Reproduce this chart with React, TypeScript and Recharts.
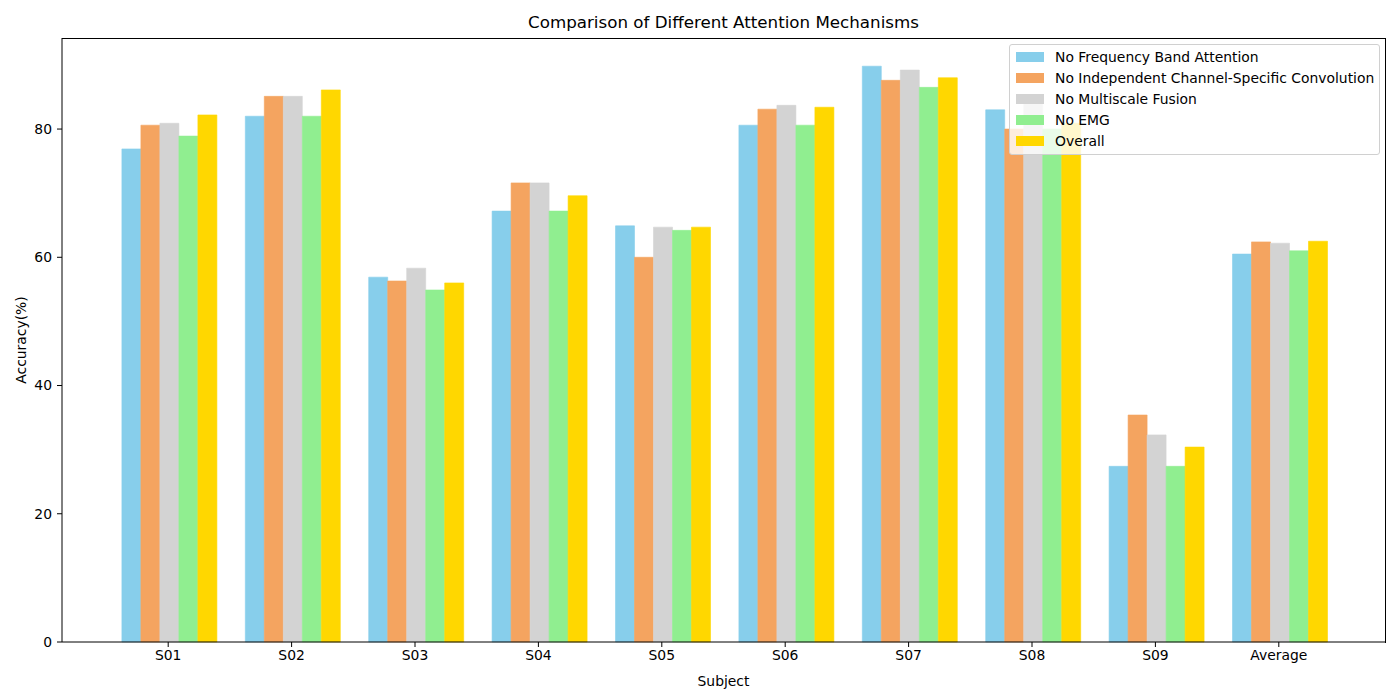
import React from "react";
import { Bar, BarChart, Legend, XAxis, YAxis } from "recharts";

const subjects = ["S01", "S02", "S03", "S04", "S05", "S06", "S07", "S08", "S09", "Average"];

const noFrequencyBand = [76.9, 82.0, 56.9, 67.2, 64.9, 80.6, 89.8, 83.0, 27.4, 60.5];
const noIndependentConv = [80.6, 85.1, 56.3, 71.6, 60.0, 83.1, 87.6, 80.0, 35.4, 62.4];
const noMultiscale = [80.9, 85.1, 58.3, 71.6, 64.7, 83.7, 89.2, 84.1, 32.3, 62.2];
const noEmg = [78.9, 82.0, 54.9, 67.2, 64.2, 80.6, 86.5, 80.0, 27.4, 61.0];
const overall = [82.2, 86.1, 56.0, 69.6, 64.7, 83.4, 88.0, 80.9, 30.4, 62.5];

const yTicks = [0, 20, 40, 60, 80];

const series = [
  { key: "freq", name: "No Frequency Band Attention", color: "#87CEEB", values: noFrequencyBand },
  { key: "indep", name: "No Independent Channel-Specific Convolution", color: "#F4A460", values: noIndependentConv },
  { key: "multi", name: "No Multiscale Fusion", color: "#D3D3D3", values: noMultiscale },
  { key: "emg", name: "No EMG", color: "#90EE90", values: noEmg },
  { key: "overall", name: "Overall", color: "#FFD700", values: overall },
];

const chartData = subjects.map((subject, i) => {
  const row: Record<string, string | number> = { subject };
  series.forEach((s) => {
    row[s.key] = s.values[i];
  });
  return row;
});

const FONT = "'DejaVu Sans', sans-serif";

function LegendBox() {
  return (
    <div
      style={{
        background: "rgba(255,255,255,0.8)",
        border: "1px solid #d0d0d0",
        borderRadius: 3,
        padding: "2px 5px 3px 6px",
        fontFamily: FONT,
        fontSize: 13.9,
        color: "#000",
        boxSizing: "border-box",
        whiteSpace: "nowrap",
      }}
    >
      {series.map((s) => (
        <div key={s.key} style={{ display: "flex", alignItems: "center", height: 20.9 }}>
          <span style={{ display: "inline-block", width: 28, height: 10, background: s.color, marginRight: 11, flexShrink: 0 }} />
          <span>{s.name}</span>
        </div>
      ))}
    </div>
  );
}

export default function App() {
  return (
    <div style={{ position: "relative", width: 1400, height: 700, background: "#fff", fontFamily: FONT }}>
      <style>{`body{margin:0}`}</style>
      <div
        style={{
          position: "absolute",
          top: 12,
          left: 62,
          width: 1323,
          textAlign: "center",
          fontSize: 16.7,
          color: "#000",
        }}
      >
        Comparison of Different Attention Mechanisms
      </div>
      <BarChart
        width={1400}
        height={700}
        data={chartData}
        margin={{ top: 38, right: 15, left: 0, bottom: 0 }}
        barCategoryGap={15.4}
        barGap={0}
      >
        <XAxis
          dataKey="subject"
          height={58}
          padding={{ left: 44.5, right: 44.5 }}
          tickSize={5}
          tickMargin={3}
          stroke="#000"
          tick={{ fill: "#000", fontSize: 13.9, fontFamily: FONT }}
          label={{ value: "Subject", position: "insideBottom", offset: 14, fill: "#000", fontSize: 13.9, fontFamily: FONT }}
        />
        <YAxis
          width={62}
          domain={[0, 94.2]}
          ticks={yTicks}
          tickSize={5}
          tickMargin={5}
          stroke="#000"
          tick={{ fill: "#000", fontSize: 13.9, fontFamily: FONT }}
          label={{ value: "Accuracy(%)", angle: -90, position: "insideLeft", offset: 21, fill: "#000", fontSize: 13.9, fontFamily: FONT, style: { textAnchor: "middle" } }}
        />
        <Legend
          layout="vertical"
          align="center"
          verticalAlign="middle"
          wrapperStyle={{ top: 44, left: 1009, width: "auto" }}
          content={() => <LegendBox />}
        />
        {series.map((s) => (
          <Bar
            key={s.key}
            dataKey={s.key}
            name={s.name}
            fill={s.color}
            stroke={s.color}
            strokeWidth={0.6}
            isAnimationActive={false}
          />
        ))}
      </BarChart>
      <div
        style={{
          position: "absolute",
          left: 62,
          top: 37.5,
          width: 1323.5,
          height: 605,
          borderTop: "1px solid #000",
          borderRight: "1px solid #000",
          boxSizing: "border-box",
          pointerEvents: "none",
        }}
      />
    </div>
  );
}
